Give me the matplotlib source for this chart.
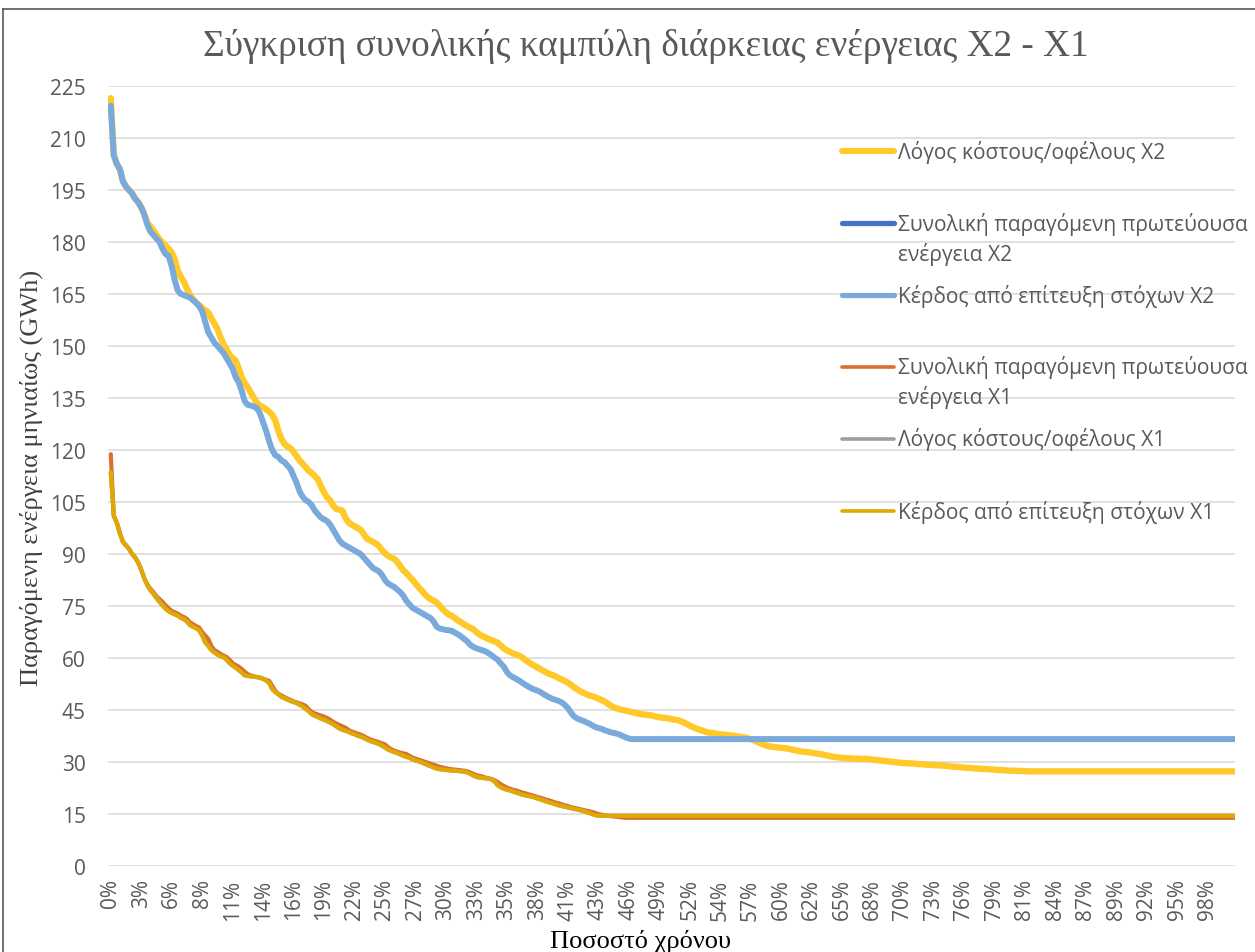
import numpy as np
import matplotlib
matplotlib.use("Agg")
import matplotlib.pyplot as plt
from matplotlib.lines import Line2D

# ---------------- data ----------------
title = "Σύγκριση συνολικής καμπύλη διάρκειας ενέργειας X2 - X1"
y_title = "Παραγόμενη ενέργεια μηνιαίως (GWh)"
x_title = "Ποσοστό χρόνου"

x_labels = ["0%", "3%", "6%", "8%", "11%", "14%", "16%", "19%", "22%", "25%",
            "27%", "30%", "33%", "35%", "38%", "41%", "43%", "46%", "49%", "52%",
            "54%", "57%", "60%", "62%", "65%", "68%", "70%", "73%", "76%", "79%",
            "81%", "84%", "87%", "89%", "92%", "95%", "98%"]
y_ticks = [0, 15, 30, 45, 60, 75, 90, 105, 120, 135, 150, 165, 180, 195, 210, 225]

ratio_x2 = [
    221.5, 205, 202.5, 201, 197.5, 196, 195, 194, 192.5, 191.5,
    190, 188, 185.5, 184.5, 183.3, 182, 180.8, 179.8, 179, 178,
    177, 175, 171.7, 170, 168.5, 166.5, 164.8, 163.5, 162.5, 161.8,
    161, 160.3, 159.7, 158, 156.5, 155, 152.5, 150.5, 149, 147.5,
    146.5, 145.8, 143.5, 141, 139.3, 138, 136.5, 135, 133.5, 132.8,
    132.3, 131.8, 131, 130.2, 128.5, 125.5, 123.2, 121.8, 121, 120.5,
    119.5, 118.2, 117, 116, 115, 114, 113.3, 112.5, 111.5, 109.5,
    107.8, 106.3, 105.5, 104, 103, 102.8, 102.5, 100.5, 99.2, 98.5,
    98, 97.5, 97, 95.8, 94.5, 94, 93.5, 93, 92.3, 91.2,
    90.2, 89.5, 89, 88.6, 87.8, 86.5, 85.3, 84.5, 83.5, 82.6,
    81.5, 80.4, 79.5, 78.5, 77.6, 77, 76.5, 76, 75, 74,
    73.2, 72.5, 72.1, 71.5, 70.8, 70.3, 69.7, 69.2, 68.7, 68.3,
    67.5, 66.8, 66.3, 65.9, 65.5, 65.1, 64.8, 64.4, 63.6, 62.8,
    62.2, 61.8, 61.3, 61, 60.7, 60.2, 59.5, 58.9, 58.3, 57.8,
    57.3, 56.8, 56.3, 55.8, 55.4, 55.1, 54.7, 54.2, 53.8, 53.4,
    52.9, 52.3, 51.6, 51, 50.5, 50, 49.6, 49.2, 49, 48.7,
    48.3, 47.9, 47.5, 46.9, 46.3, 45.8, 45.5, 45.2, 45, 44.8,
    44.6, 44.4, 44.2, 44, 43.8, 43.7, 43.6, 43.5, 43.3, 43.1,
    42.9, 42.8, 42.7, 42.6, 42.4, 42.2, 42.1, 41.8, 41.4, 41,
    40.5, 40.1, 39.7, 39.4, 39.1, 38.8, 38.5, 38.4, 38.3, 38.1,
    38, 37.9, 37.8, 37.7, 37.6, 37.5, 37.3, 37.2, 37.1, 36.9,
    36.6, 36.3, 35.9, 35.5, 35.1, 34.8, 34.5, 34.4, 34.3, 34.2,
    34.1, 34, 33.9, 33.7, 33.5, 33.3, 33.1, 33, 32.9, 32.8,
    32.7, 32.5, 32.4, 32.3, 32.1, 31.9, 31.7, 31.5, 31.4, 31.3,
    31.2, 31.1, 31.1, 31, 31, 31, 30.9, 30.9, 30.9, 30.8,
    30.7, 30.6, 30.5, 30.4, 30.3, 30.2, 30.1, 30, 29.9, 29.8,
    29.7, 29.7, 29.6, 29.6, 29.5, 29.4, 29.4, 29.3, 29.2, 29.2,
    29.1, 29.1, 29, 29, 28.9, 28.8, 28.7, 28.6, 28.6, 28.5,
    28.4, 28.3, 28.3, 28.2, 28.1, 28.1, 28, 28, 27.9, 27.9,
    27.8, 27.7, 27.7, 27.6, 27.6, 27.5, 27.5, 27.5, 27.4, 27.4,
    27.4, 27.3, 27.3, 27.3] + [27.3] * 66

gain_x2 = [
    219.3, 205, 202.5, 201, 197.5, 196, 195, 194, 192.5, 191.5,
    190, 188, 185, 183, 182, 181, 180, 178, 176.5, 176,
    173, 169, 166, 165, 164.7, 164.3, 164, 163.2, 162.5, 161.5,
    160, 157, 154, 152.5, 151, 150, 149, 148, 146.5, 145,
    143.5, 141, 139.5, 137, 134, 133, 132.8, 132.5, 132, 130.5,
    128, 125.5, 122.5, 120, 118.5, 118, 117, 116.5, 115.5, 114.5,
    112.5, 110.5, 108, 106.5, 105.5, 105, 104, 102.5, 101.5, 100.5,
    100, 99.5, 98.5, 97, 95.5, 94, 93, 92.5, 92, 91.5,
    91, 90.5, 90, 89, 88, 87, 86, 85.5, 85, 84,
    82.5, 81.5, 81, 80.5, 79.8, 79, 78, 76.5, 75.5, 74.5,
    74, 73.5, 73, 72.5, 72, 71.5, 70.5, 69, 68.5, 68.3,
    68.1, 68, 67.8, 67.3, 66.8, 66.2, 65.5, 64.8, 63.8, 63.2,
    62.8, 62.5, 62.2, 61.9, 61.4, 60.8, 60.1, 59.5, 58.4, 57.5,
    56, 55, 54.5, 54, 53.5, 52.9, 52.3, 51.8, 51.3, 50.9,
    50.6, 50.2, 49.6, 49.1, 48.6, 48.2, 47.9, 47.6, 47.2, 46.5,
    45.6, 44.3, 43.2, 42.6, 42.2, 41.9, 41.5, 41.1, 40.6, 40.1,
    39.8, 39.6, 39.2, 38.9, 38.6, 38.4, 38.2, 37.9, 37.5, 37.1,
    36.8] + [36.6] * 199
total_x2 = list(gain_x2)

total_x1 = [
    118.8, 101, 99, 96, 93.5, 92.5, 91.5, 90, 89, 87.5,
    85.5, 83, 81.2, 80, 79, 77.8, 77, 76.2, 75.2, 74.3,
    73.6, 73.2, 72.8, 72.2, 71.8, 71.3, 70.3, 69.8, 69.2, 68.8,
    67.5, 66.5, 65.5, 63.5, 62.3, 61.8, 61.2, 60.7, 60.3, 59.5,
    58.5, 58, 57.5, 56.8, 56, 55.3, 55, 54.7, 54.5, 54.3,
    54, 53.7, 53.4, 52, 50.5, 49.7, 49.2, 48.7, 48.3, 47.9,
    47.5, 47.2, 46.9, 46.6, 46.2, 45.2, 44.4, 44, 43.7, 43.4,
    43.1, 42.7, 42.2, 41.6, 41.1, 40.7, 40.3, 39.9, 39.3, 38.8,
    38.5, 38.2, 37.9, 37.5, 37, 36.6, 36.3, 36, 35.7, 35.4,
    35.1, 34.3, 33.7, 33.3, 33, 32.7, 32.5, 32.3, 31.8, 31.3,
    31, 30.7, 30.4, 30.1, 29.8, 29.5, 29.2, 28.9, 28.6, 28.4,
    28.2, 28, 27.9, 27.8, 27.7, 27.6, 27.5, 27.3, 27, 26.6,
    26.2, 26, 25.8, 25.5, 25.3, 25.1, 24.7, 24.2, 23.6, 23.1,
    22.6, 22.3, 22, 21.8, 21.5, 21.2, 21, 20.7, 20.5, 20.2,
    19.9, 19.7, 19.4, 19.1, 18.9, 18.6, 18.3, 18.1, 17.8, 17.5,
    17.3, 17, 16.8, 16.6, 16.4, 16.2, 16, 15.8, 15.6, 15.3,
    15, 14.8, 14.6, 14.5, 14.4, 14.3, 14.2, 14.1, 14.0, 13.9] + [13.9] * 200

gain_x1 = [
    113.6, 101, 99, 96, 93.5, 92.5, 91.5, 90, 89, 87.5,
    85.5, 83, 81, 79.6, 78.5, 77.3, 76.2, 75.2, 74.2, 73.5,
    73, 72.6, 72.2, 71.6, 71.2, 70.5, 69.5, 69, 68.6, 68,
    66.5, 64.5, 63.5, 62.3, 61.6, 61, 60.5, 60.2, 59.5, 58.5,
    57.8, 57.2, 56.5, 55.8, 55, 54.8, 54.7, 54.6, 54.5, 54.3,
    54, 53.5, 52.8, 51, 50.2, 49.5, 48.8, 48.4, 48, 47.6,
    47.3, 47, 46.5, 46, 45.3, 44.6, 43.8, 43.3, 43, 42.5,
    42.2, 41.8, 41.4, 40.9, 40.3, 39.7, 39.3, 39, 38.7, 38.3,
    38, 37.6, 37.3, 37, 36.5, 36.1, 35.8, 35.5, 35.2, 34.7,
    34.2, 33.6, 33.2, 32.9, 32.6, 32.2, 31.8, 31.5, 31.2, 30.8,
    30.5, 30.2, 29.9, 29.5, 29.1, 28.8, 28.4, 28.1, 27.9, 27.8,
    27.7, 27.6, 27.5, 27.5, 27.4, 27.3, 27.2, 27, 26.6, 26.1,
    25.7, 25.5, 25.4, 25.3, 25.2, 25, 24.3, 23.3, 22.7, 22.3,
    22, 21.8, 21.5, 21.2, 20.9, 20.6, 20.4, 20.2, 20, 19.8,
    19.5, 19.2, 18.9, 18.6, 18.3, 18.1, 17.8, 17.5, 17.3, 17.1,
    16.9, 16.7, 16.5, 16.3, 16.1, 15.9, 15.6, 15.3, 15, 14.7,
    14.5] + [14.5] * 209
ratio_x1 = list(gain_x1)

series_names = ["Λόγος κόστους/οφέλους X2",
                "Συνολική παραγόμενη πρωτεύουσα\nενέργεια X2",
                "Κέρδος από επίτευξη στόχων X2",
                "Συνολική παραγόμενη πρωτεύουσα\nενέργεια X1",
                "Λόγος κόστους/οφέλους X1",
                "Κέρδος από επίτευξη στόχων X1"]
series_values = [ratio_x2, total_x2, gain_x2, total_x1, ratio_x1, gain_x1]

# ---------------- styles ----------------
colors = ["#FFC92A", "#4472C4", "#79AADB", "#D8712D", "#9E9E9E", "#E0A800"]
widths = [4.6, 3.4, 4.3, 3.0, 3.0, 3.0]
legend_widths = [4.3, 3.8, 3.8, 2.6, 2.6, 2.6]
sans = ["Open Sans", "DejaVu Sans"]
serif = ["Liberation Serif", "DejaVu Serif"]
txt_color = "#595959"

W, H = 1255, 953
fig = plt.figure(figsize=(W / 100, H / 100), dpi=100)


def fx(px):
    return px / W


def fy(py):
    return 1 - py / H


ax = fig.add_axes([fx(108), fy(867), fx(1235) - fx(108), fy(87) - fy(867)])
for vals, c, lw in zip(series_values, colors, widths):
    ax.plot(np.arange(len(vals)), vals, color=c, lw=lw,
            solid_capstyle="round", solid_joinstyle="round")

ax.set_ylim(0, 225)
ax.set_xlim(-0.9, 369)
ax.set_yticks(y_ticks)
ax.set_xticks(np.arange(len(x_labels)) * 10)
ax.set_xticklabels(x_labels, rotation=90, family=sans)
for lab in ax.get_yticklabels():
    lab.set_family(sans)
ax.grid(axis="y", color="#D9D9D9", lw=1.1)
ax.set_axisbelow(True)
for s in ax.spines.values():
    s.set_visible(False)
ax.tick_params(axis="both", length=0, labelsize=15, labelcolor=txt_color)
ax.tick_params(axis="y", pad=16)
ax.tick_params(axis="x", pad=9)

# legend (manual, Excel-like spacing)
leg_y = [152, 224, 296, 368, 440, 512]
for name, c, lw, y in zip(series_names, colors, legend_widths, leg_y):
    fig.add_artist(Line2D([fx(842), fx(894)], [fy(y), fy(y)], color=c, lw=lw,
                          solid_capstyle="round", transform=fig.transFigure))
    for k, line in enumerate(name.split("\n")):
        fig.text(fx(898), fy(y + 30 * k), line, ha="left", va="center",
                 fontsize=15.1, family=sans, color=txt_color)

# titles
fig.text(fx(646), fy(46), title, ha="center", va="center", fontsize=26.8,
         family=serif, color=txt_color)
fig.text(fx(31), fy(478), y_title, ha="center", va="center", rotation=90,
         fontsize=19, family=serif, color="#404040")
fig.text(fx(640), fy(948), x_title, ha="center", va="baseline",
         fontsize=19, family=serif, color="black")

# chart border
fig.add_artist(Line2D([fx(3), fx(3)], [fy(10), 0], color="#595959", lw=1.2,
                      transform=fig.transFigure))
fig.add_artist(Line2D([fx(3), 1], [fy(10), fy(10)], color="#595959", lw=1.2,
                      transform=fig.transFigure))

fig.savefig("out.png", dpi=100)
